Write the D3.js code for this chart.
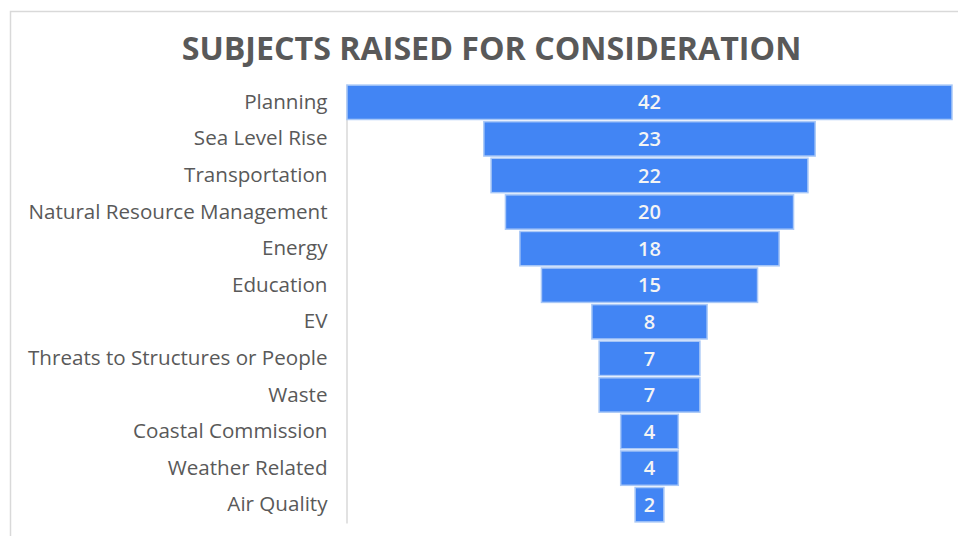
<html>
<head>
<style>
  body { margin: 0; background: #fff; }
  text { font-family: "Open Sans", sans-serif; }
</style>
</head>
<body>
<svg id="chart" width="958" height="536"></svg>
<script src="https://cdnjs.cloudflare.com/ajax/libs/d3/7.8.5/d3.min.js"></script>
<script>
  const categories = ["Planning", "Sea Level Rise", "Transportation", "Natural Resource Management",
    "Energy", "Education", "EV", "Threats to Structures or People", "Waste",
    "Coastal Commission", "Weather Related", "Air Quality"]
  const counts = [42, 23, 22, 20, 18, 15, 8, 7, 7, 4, 4, 2]
  const title = "SUBJECTS RAISED FOR CONSIDERATION"

  const data = categories.map((c, i) => ({ name: c, value: counts[i] }))

  let svg = d3.select("#chart")
  let axisX = 346.5
  let plotTop = 84
  let plotBottom = 523
  let center = 649.5
  let maxHalf = center - axisX - 0.5

  // outer frame of the chart
  svg.append("rect")
    .attr("x", 10.5).attr("y", 11.5)
    .attr("width", 970).attr("height", 560)
    .attr("fill", "none").attr("stroke", "#d9d9d9").attr("stroke-width", 1.5)

  svg.append("text")
    .attr("x", 491.5).attr("y", 60)
    .attr("text-anchor", "middle")
    .attr("font-size", 32.2).attr("font-weight", "bold")
    .attr("fill", "#595959")
    .text(title)

  let y = d3.scaleBand()
    .domain(categories)
    .range([plotTop, plotBottom])
    .paddingInner(0.06)
    .paddingOuter(0.03)

  // half widths, bars are centred to make the funnel
  let w = d3.scaleLinear()
    .domain([0, d3.max(counts)])
    .range([0, maxHalf])

  let yAxis = d3.axisLeft(y).tickSize(0).tickPadding(19)
  let ax = svg.append("g")
    .attr("transform", `translate(${axisX},0)`)
    .call(yAxis)
  ax.select(".domain").attr("stroke", "#d9d9d9").attr("stroke-width", 1.5)
  ax.selectAll("text")
    .attr("font-size", 20.6)
    .attr("fill", "#595959")
    .style("font-family", "Open Sans, sans-serif")

  let bars = svg.append("g")
  bars.selectAll("rect")
    .data(data)
    .enter()
    .append("rect")
      .attr("x", d => center - w(d.value))
      .attr("y", d => y(d.name))
      .attr("width", d => 2 * w(d.value))
      .attr("height", y.bandwidth())
      .attr("fill", "#4285f4")
      .attr("stroke", "#a9c8f7")
      .attr("stroke-width", 1.5)

  bars.selectAll("text")
    .data(data)
    .enter()
    .append("text")
      .attr("x", center)
      .attr("y", d => y(d.name) + y.bandwidth() / 2)
      .attr("dy", "0.36em")
      .attr("text-anchor", "middle")
      .attr("font-size", 20)
      .attr("font-weight", 600)
      .attr("fill", "#f4f4f4")
      .text(d => d.value)
</script>
</body>
</html>
